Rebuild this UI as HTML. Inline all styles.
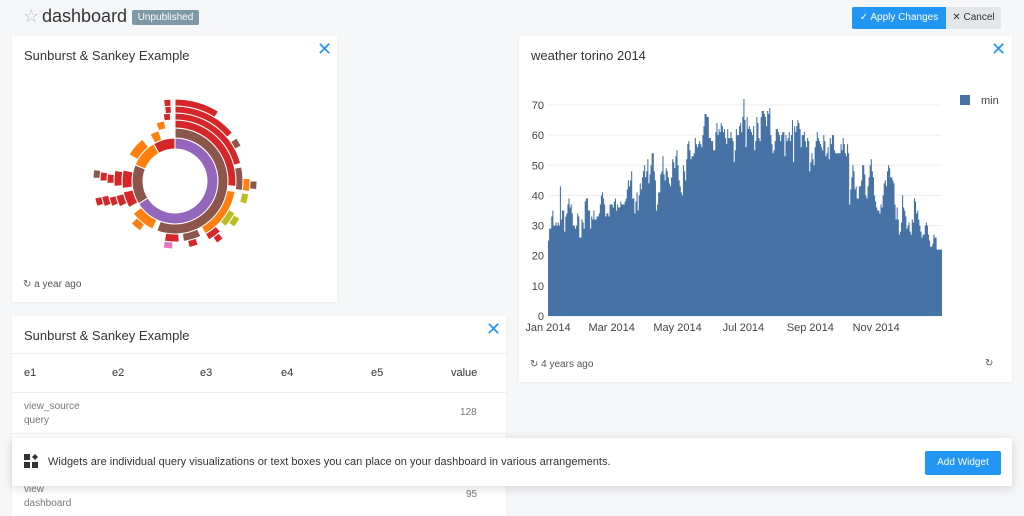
<!DOCTYPE html>
<html><head><meta charset="utf-8"><style>
body{margin:0;width:1024px;height:501px;overflow:hidden;background:#f6f7f9;font-family:"Liberation Sans",sans-serif;color:#333;position:relative}
.card{position:absolute;background:#fff;box-shadow:0 1px 3px rgba(0,0,0,.06)}
.title{position:absolute;font-size:13px;color:#333}
.close{position:absolute;color:#2196f3;font-size:18px;line-height:18px}
.foot{position:absolute;font-size:10px;color:#555}
.abs{position:absolute}
</style></head><body>
<div class="abs" style="left:23px;top:6px;font-size:18px;color:#bbb">☆</div>
<div class="abs" style="left:42px;top:6px;font-size:18px;color:#333">dashboard</div>
<div class="abs" style="left:132px;top:10px;width:67px;height:15px;background:#7d98a6;color:#fff;font-size:10px;line-height:15px;text-align:center;border-radius:2px">Unpublished</div>
<div class="abs" style="left:852px;top:7px;width:94px;height:22px;background:#2196f3;color:#fff;font-size:10px;line-height:22px;text-align:center;border-radius:2px 0 0 2px">✓ Apply Changes</div>
<div class="abs" style="left:946px;top:7px;width:55px;height:22px;background:#e3e6ea;color:#333;font-size:10px;line-height:22px;text-align:center">✕ Cancel</div>

<div class="card" style="left:12px;top:36px;width:325px;height:266px">
 <div class="title" style="left:12px;top:12px">Sunburst &amp; Sankey Example</div>
 <div class="close" style="left:305px;top:4px">✕</div>
 <svg id="sun" class="abs" style="left:0;top:0" width="325" height="266"></svg>
 <div class="foot" style="left:11px;top:243px">↻ a year ago</div>
</div>

<div class="card" style="left:519px;top:36px;width:493px;height:346px">
 <div class="title" style="left:12px;top:12px">weather torino 2014</div>
 <div class="close" style="left:472px;top:4px">✕</div>
 <svg id="wx" class="abs" style="left:0;top:0" width="493" height="300"></svg>
 <div class="foot" style="left:11px;top:323px">↻ 4 years ago</div>
 <div class="foot" style="left:466px;top:322px">↻</div>
</div>

<div class="card" style="left:12px;top:316px;width:494px;height:200px">
 <div class="title" style="left:12px;top:12px">Sunburst &amp; Sankey Example</div>
 <div class="close" style="left:474px;top:4px">✕</div>
 <div class="abs" style="left:0;top:37px;width:494px;border-top:1px solid #eee"></div>
 <div class="abs" style="left:0;top:76px;width:494px;border-top:1px solid #eee"></div>
 <div class="abs" style="left:0;top:117px;width:494px;border-top:1px solid #eee"></div>
 <div class="abs" style="left:12px;top:51px;font-size:11px">e1</div>
 <div class="abs" style="left:100px;top:51px;font-size:11px">e2</div>
 <div class="abs" style="left:188px;top:51px;font-size:11px">e3</div>
 <div class="abs" style="left:269px;top:51px;font-size:11px">e4</div>
 <div class="abs" style="left:359px;top:51px;font-size:11px">e5</div>
 <div class="abs" style="left:439px;top:51px;font-size:11px">value</div>
 <div class="abs" style="left:12px;top:84px;font-size:10px;color:#777;line-height:14px">view_source<br>query</div>
 <div class="abs" style="left:448px;top:91px;font-size:10px;color:#777">128</div>
 <div class="abs" style="left:12px;top:167px;font-size:10px;color:#777;line-height:14px">view<br>dashboard</div>
 <div class="abs" style="left:454px;top:173px;font-size:10px;color:#777">95</div>
</div>

<div class="card" style="left:12px;top:438px;width:1000px;height:48px;box-shadow:0 2px 10px rgba(0,0,0,.15)">
 <svg class="abs" style="left:12px;top:16px" width="14" height="14"><rect x="0" y="0" width="6" height="6" fill="#333"/><rect x="0" y="8" width="6" height="6" fill="#333"/><rect x="8" y="8" width="6" height="6" fill="#333"/><polygon points="11,0 14,3 11,6 8,3" fill="#333"/></svg>
 <div class="abs" style="left:36px;top:18px;font-size:11px;color:#333">Widgets are individual query visualizations or text boxes you can place on your dashboard in various arrangements.</div>
 <div class="abs" style="left:913px;top:13px;width:76px;height:24px;background:#2196f3;color:#fff;font-size:10px;line-height:24px;text-align:center;border-radius:2px">Add Widget</div>
</div>

<script>
// ---- weather data (daily min, 2014) ----
const months=["Jan 2014","Mar 2014","May 2014","Jul 2014","Sep 2014","Nov 2014"];
const monthDays=[0,59,120,181,243,304];
const yTicks=[0,10,20,30,40,50,60,70];
const minTemps=[25,29,29,33,35,30,30,31,30,31,30,43,32,35,35,28,33,34,37,39,36,37,34,30,30,29,30,34,33,26,26,
32,31,29,38,39,39,35,35,29,33,32,35,32,32,33,33,34,37,40,41,39,37,33,34,34,33,37,37,
37,36,38,39,35,37,36,36,38,37,37,37,38,39,42,45,43,45,48,39,39,34,38,41,35,40,44,42,46,48,50,
46,48,52,44,47,50,54,54,48,45,35,37,41,41,47,48,53,47,45,49,48,46,44,43,46,52,51,49,53,55,
50,45,43,41,40,50,48,45,52,57,58,55,52,53,53,54,59,57,56,57,58,57,56,60,63,67,67,66,66,59,59,
58,58,55,55,61,64,60,62,61,64,63,61,62,59,57,62,59,59,61,59,58,51,55,62,60,60,63,64,61,66,
72,65,56,66,62,63,62,61,60,63,55,58,66,64,59,58,66,68,68,67,66,63,68,67,69,60,57,54,55,58,62,
62,61,60,58,60,61,61,53,60,58,59,61,58,60,65,51,63,61,63,65,64,62,56,60,60,61,58,56,59,58,48,
51,54,52,50,56,58,61,59,58,57,56,55,60,58,53,54,56,52,59,57,60,60,55,54,54,54,54,54,57,55,
59,57,54,53,57,54,37,42,46,50,48,42,43,39,39,43,43,45,50,50,47,40,39,43,46,50,52,48,46,40,38,
36,35,35,34,37,36,40,44,45,43,48,50,49,46,46,45,44,37,32,36,32,27,28,31,40,36,35,33,29,30,
31,28,27,32,31,39,38,34,35,32,30,28,26,27,27,30,31,30,27,25,23,23,24,27,26,26,22,22,22,22,22];
// ---- sunburst data: rings of [startDeg,endDeg,colorKey] ----
const ring1=[[0,238,"p"],[238,292,"b"],[292,330,"o"],[330,360,"r"]];
const ring2=[[0,200,"b"],[205,232,"o"],[240,258,"r"],[262,282,"r"],[300,322,"o"],[332,342,"o"]];
const ring3=[[0,95,"r"],[100,150,"o"],[155,172,"b"],[176,190,"r"],[215,226,"o"],[245,256,"r"],[265,280,"r"],[342,350,"o"]];
const ring4=[[0,75,"r"],[78,98,"b"],[118,132,"y"],[138,150,"r"],[160,168,"r"],[182,190,"k"],[248,256,"r"],[268,276,"r"],[350,356,"r"]];
const ring5=[[0,50,"r"],[55,62,"b"],[88,98,"o"],[100,108,"y"],[120,128,"y"],[140,146,"r"],[250,258,"r"],[270,277,"r"],[352,357,"r"]];
const ring6=[[0,32,"r"],[90,96,"b"],[252,258,"r"],[272,278,"b"],[352,357,"r"]];
const sunColors={p:"#9467bd",b:"#8c564b",o:"#ff7f0e",r:"#d62728",y:"#bcbd22",k:"#e377c2"};
const radii=[32,43,53,61,68,75,82];

const NS="http://www.w3.org/2000/svg";
(function(){
 const svg=document.getElementById('wx');
 const x0=29,x1=423,y0=280,yMax=70,yTop=69;
 const xs=d=>x0+(x1-x0)*d/365;
 const ys=v=>y0-(y0-yTop)*v/yMax;
 yTicks.forEach(t=>{
  const l=document.createElementNS(NS,'line');
  
  
  l.setAttribute('x1',x0);l.setAttribute('x2',x1);l.setAttribute('y1',ys(t));l.setAttribute('y2',ys(t));
  l.setAttribute('stroke','#eee');svg.appendChild(l);
  const tx=document.createElementNS(NS,'text');
  
  
  tx.setAttribute('x',x0-4);tx.setAttribute('y',ys(t)+4);tx.setAttribute('text-anchor','end');
  tx.setAttribute('font-size','11');tx.setAttribute('fill','#444');tx.textContent=t;svg.appendChild(tx);
 });
 let d="M"+xs(0)+","+y0;
 minTemps.forEach((v,i)=>{d+="L"+xs(i)+","+ys(v)+"L"+xs(i+1)+","+ys(v);});
 d+="L"+xs(minTemps.length)+","+y0+"Z";
 const p=document.createElementNS(NS,'path');
 
 
 p.setAttribute('d',d);p.setAttribute('fill','#4672a5');svg.appendChild(p);
 months.forEach((m,i)=>{
  const tx=document.createElementNS(NS,'text');
  
  
  tx.setAttribute('x',xs(monthDays[i]));tx.setAttribute('y',y0+15);tx.setAttribute('text-anchor','middle');
  tx.setAttribute('font-size','11');tx.setAttribute('fill','#444');tx.textContent=m;svg.appendChild(tx);
 });
 const r=document.createElementNS(NS,'rect');
 
 
 r.setAttribute('x',441);r.setAttribute('y',59);r.setAttribute('width',10);r.setAttribute('height',10);r.setAttribute('fill','#4672a5');svg.appendChild(r);
 const lt=document.createElementNS(NS,'text');
 
 
 lt.setAttribute('x',462);lt.setAttribute('y',68);lt.setAttribute('font-size','11');lt.setAttribute('fill','#444');lt.textContent='min';svg.appendChild(lt);
})();
(function(){
 const svg=document.getElementById('sun');
 const cx=163,cy=145;
 const pt=(r,a)=>{const t=(a-90)*Math.PI/180;return [cx+r*Math.cos(t),cy+r*Math.sin(t)];};
 [ring1,ring2,ring3,ring4,ring5,ring6].forEach((ring,ri)=>{
  const r0=radii[ri],r1=radii[ri+1];
  ring.forEach(s=>{
   const [a0,a1,c]=s;const lg=(a1-a0)>180?1:0;
   const p0=pt(r1,a0),p1=pt(r1,a1),p2=pt(r0,a1),p3=pt(r0,a0);
   const d=`M${p0}A${r1},${r1} 0 ${lg} 1 ${p1}L${p2}A${r0},${r0} 0 ${lg} 0 ${p3}Z`;
   const e=document.createElementNS(NS,'path');
   
   
   e.setAttribute('d',d);e.setAttribute('fill',sunColors[c]);e.setAttribute('stroke','#fff');e.setAttribute('stroke-width','1');
   svg.appendChild(e);
  });
 });
})();
</script>
</body></html>
